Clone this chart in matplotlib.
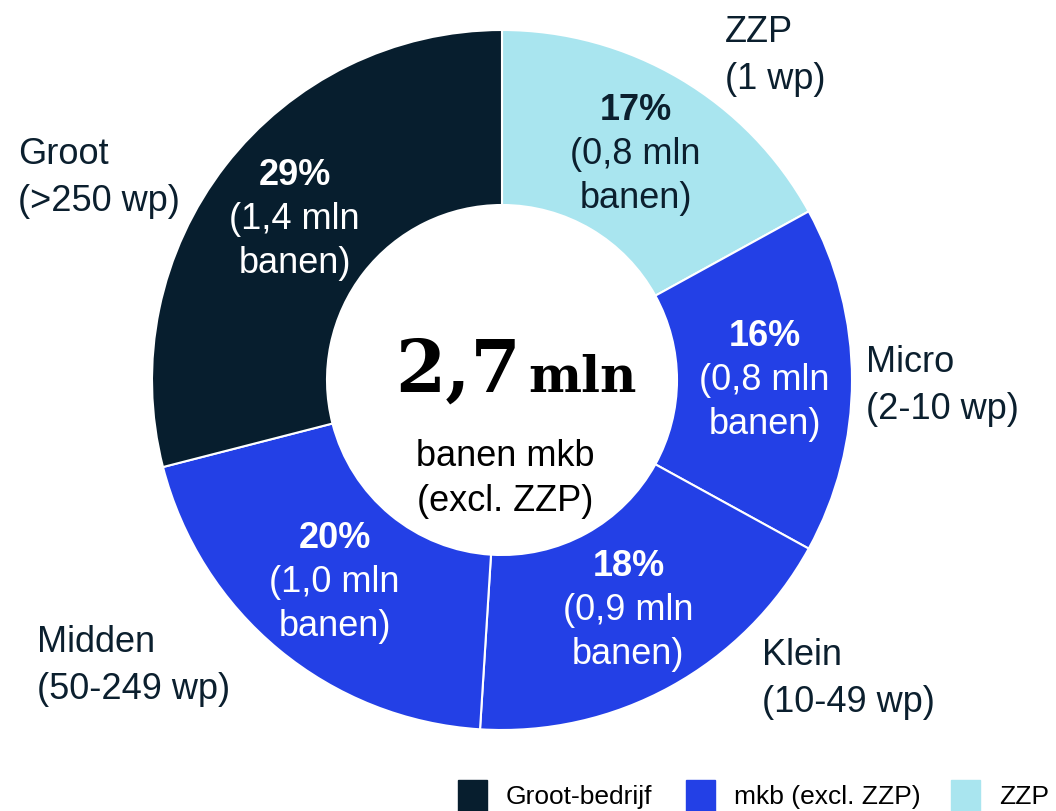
import numpy as np
import matplotlib.pyplot as plt
from matplotlib.patches import Rectangle

# data (clockwise from the top)
categories = ['ZZP', 'Micro', 'Klein', 'Midden', 'Groot']
shares = [17, 16, 18, 20, 29]
banen = ['0,8', '0,8', '0,9', '1,0', '1,4']
outer_labels = ['ZZP\n(1 wp)', 'Micro\n(2-10 wp)', 'Klein\n(10-49 wp)',
                'Midden\n(50-249 wp)', 'Groot\n(>250 wp)']
groups = ['ZZP', 'mkb', 'mkb', 'mkb', 'Groot']
legend_names = ['Groot-bedrijf', 'mkb (excl. ZZP)', 'ZZP']

colors = {'Groot': '#071e2e', 'mkb': '#2340e6', 'ZZP': '#a9e5ef'}
textdark = '#0b1f2e'

plt.rcParams['font.family'] = ['Liberation Sans', 'DejaVu Sans']

W, H = 1056, 811
fig = plt.figure(figsize=(W / 100, H / 100), dpi=100)
ax = fig.add_axes([0, 0, 1, 1])
cx, cy, R = 502, H - 380, 350

wedges, _ = ax.pie(shares, colors=[colors[g] for g in groups], startangle=90,
                   counterclock=False, center=(cx, cy), radius=R,
                   wedgeprops=dict(width=R * 0.5, edgecolor='white', linewidth=1.5))

for w, s, b, g in zip(wedges, shares, banen, groups):
    ang = np.deg2rad((w.theta1 + w.theta2) / 2)
    x = cx + 0.75 * R * np.cos(ang)
    y = cy + 0.75 * R * np.sin(ang)
    col = textdark if g == 'ZZP' else 'white'
    ax.text(x, y + 44, f'{s}%', ha='center', va='center', fontsize=26,
            fontweight='bold', color=col)
    ax.text(x, y, f'({b} mln', ha='center', va='center', fontsize=26, color=col)
    ax.text(x, y - 44, 'banen)', ha='center', va='center', fontsize=26, color=col)

# outer labels
label_pos = [(725, 56), (866, 386), (762, 679), (37, 666), (18, 178)]
for (lx, ly), t in zip(label_pos, outer_labels):
    ax.text(lx, H - ly, t, ha='left', va='center', fontsize=26,
            color=textdark, linespacing=1.48)

# centre text
ax.text(521, H - 392, '2,7', ha='right', va='baseline', fontsize=52,
        fontweight='bold', family='DejaVu Serif', color='black')
ax.text(528, H - 392, 'mln', ha='left', va='baseline', fontsize=36,
        fontweight='bold', family='DejaVu Serif', color='black')
ax.text(cx + 3, H - 479, 'banen mkb\n(excl. ZZP)', ha='center', va='center',
        fontsize=26, color='black', linespacing=1.4)

# legend
leg_x = [458, 686, 951]
for lx, name, key in zip(leg_x, legend_names, ['Groot', 'mkb', 'ZZP']):
    ax.add_patch(Rectangle((lx, H - 811), 29, 31, color=colors[key]))
    ax.text(lx + 48, H - 797, name, ha='left', va='center', fontsize=19,
            color='black')

ax.set_xlim(0, W)
ax.set_ylim(0, H)
ax.set_aspect('equal')
ax.axis('off')
fig.savefig('out.png', dpi=100)
